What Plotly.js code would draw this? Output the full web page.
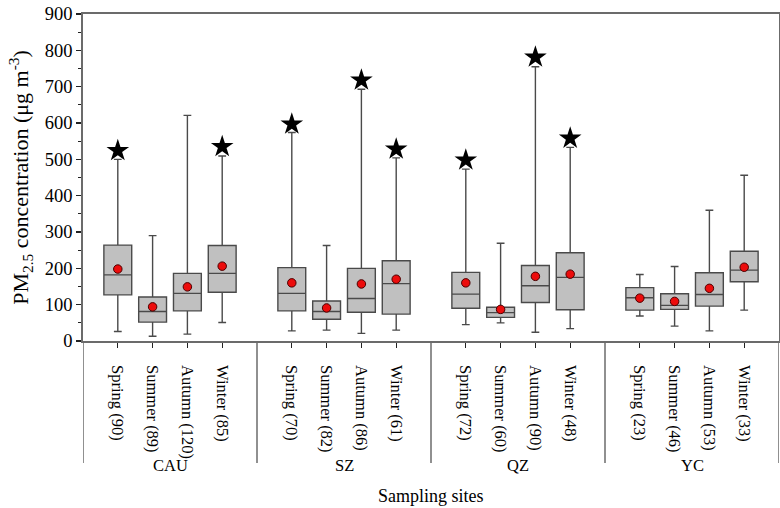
<!DOCTYPE html>
<html>
<head>
<meta charset="utf-8">
<script src="https://cdn.plot.ly/plotly-3.0.1.min.js"></script>
<style>
html,body{margin:0;padding:0;background:#fff;}
#chart{width:780px;height:508px;}
#chart text{font-family:"Liberation Serif","Times New Roman",serif !important;}
</style>
</head>
<body>
<div id="chart"></div>
<script>
// ---- data ----
const sites = ["CAU", "SZ", "QZ", "YC"];
const seasons = ["Spring", "Summer", "Autumn", "Winter"];
const counts = [90, 89, 120, 85, 70, 82, 86, 61, 72, 60, 90, 48, 23, 46, 53, 33];
const lowerWhisker = [26, 13, 19, 51, 28, 30, 21, 30, 45, 50, 24, 34, 69, 41, 28, 85];
const q1Values = [127, 52, 83, 134, 83, 60, 79, 74, 90, 65, 106, 86, 85, 87, 96, 163];
const medianValues = [182, 81, 131, 186, 131, 81, 117, 158, 129, 78, 152, 175, 119, 98, 128, 195];
const q3Values = [264, 121, 186, 263, 202, 110, 200, 221, 189, 93, 208, 243, 147, 130, 188, 247];
const upperWhisker = [500, 290, 621, 509, 574, 263, 693, 504, 473, 269, 755, 533, 183, 205, 360, 456];
const meanValues = [198, 94, 149, 206, 160, 91, 157, 170, 160, 87, 178, 184, 118, 109, 145, 203];
const maxValues = [524, null, null, 535, 597, null, 718, 528, 498, null, 781, 558, null, null, null, null];

// ---- derived layout positions ----
const pos = [], tickText = [];
sites.forEach((s, i) => seasons.forEach((se, j) => {
  const k = i * seasons.length + j;
  pos.push(i * 5 + j + 1);
  tickText.push(se + " (" + counts[k] + ")");
}));
const starX = [], starY = [];
maxValues.forEach((v, k) => { if (v !== null) { starX.push(pos[k]); starY.push(v); } });

const FONT = "Liberation Serif";
const AX = "#6b6b6b";

const traces = [
  {
    type: "box", x: pos, q1: q1Values, median: medianValues, q3: q3Values,
    lowerfence: lowerWhisker, upperfence: upperWhisker,
    width: 0.8, whiskerwidth: 0.28, boxpoints: false,
    fillcolor: "#c0c0c0", line: {color: "#4a4a4a", width: 1.4},
    hoverinfo: "skip", showlegend: false
  },
  {
    type: "scatter", mode: "markers", x: pos, y: meanValues,
    marker: {color: "#ec0c0c", size: 8.5, line: {color: "#4a0000", width: 1}},
    hoverinfo: "skip", showlegend: false
  },
  {
    type: "scatter", mode: "markers", x: starX, y: starY,
    marker: {symbol: "star", color: "#000", size: 17, line: {width: 0}},
    hoverinfo: "skip", showlegend: false
  }
];

const shapes = [0, 5, 10, 15, 20].map(x => ({
  type: "line", xref: "x", yref: "paper", x0: x, x1: x, y0: 0, y1: -0.373,
  line: {color: AX, width: 1.5}
}));

const annotations = sites.map((s, i) => ({
  text: s, xref: "x", yref: "paper", x: i * 5 + 2.5, y: -0.382,
  xanchor: "center", yanchor: "middle", showarrow: false,
  font: {family: FONT, size: 16.5, color: "#000"}
}));
annotations.push({
  text: "Sampling sites", xref: "paper", yref: "paper", x: 0.5, y: -0.475,
  xanchor: "center", yanchor: "middle", showarrow: false,
  font: {family: FONT, size: 18, color: "#000"}
});

const layout = {
  width: 780, height: 508,
  margin: {l: 83, r: 1, t: 14, b: 167},
  paper_bgcolor: "#fff", plot_bgcolor: "#fff",
  font: {family: FONT, color: "#000"},
  showlegend: false,
  xaxis: {
    range: [0, 20], tickmode: "array", tickvals: pos, ticktext: tickText,
    tickangle: 90, ticks: "outside", ticklen: 5, tickwidth: 1.3, tickcolor: "#222",
    showline: true, linecolor: AX, linewidth: 1.8, mirror: true,
    showgrid: false, zeroline: false, ticklabelstandoff: 14,
    tickfont: {family: FONT, size: 16.5, color: "#000"}, fixedrange: true
  },
  yaxis: {
    range: [0, 900], tickmode: "linear", tick0: 0, dtick: 100,
    ticks: "outside", ticklen: 5, tickwidth: 1.3, tickcolor: "#222",
    minor: {dtick: 50, ticks: "outside", ticklen: 3, tickwidth: 1.2, tickcolor: "#222"},
    showline: true, linecolor: AX, linewidth: 1.8, mirror: true,
    showgrid: false, zeroline: false,
    tickfont: {family: FONT, size: 18.5, color: "#000"},
    title: {text: "PM<sub>2.5</sub> concentration (μg m<sup>-3</sup>)", standoff: 10,
            font: {family: FONT, size: 22, color: "#000"}},
    fixedrange: true
  },
  shapes: shapes,
  annotations: annotations
};

Plotly.newPlot("chart", traces, layout, {staticPlot: true, displayModeBar: false});
</script>
</body>
</html>
